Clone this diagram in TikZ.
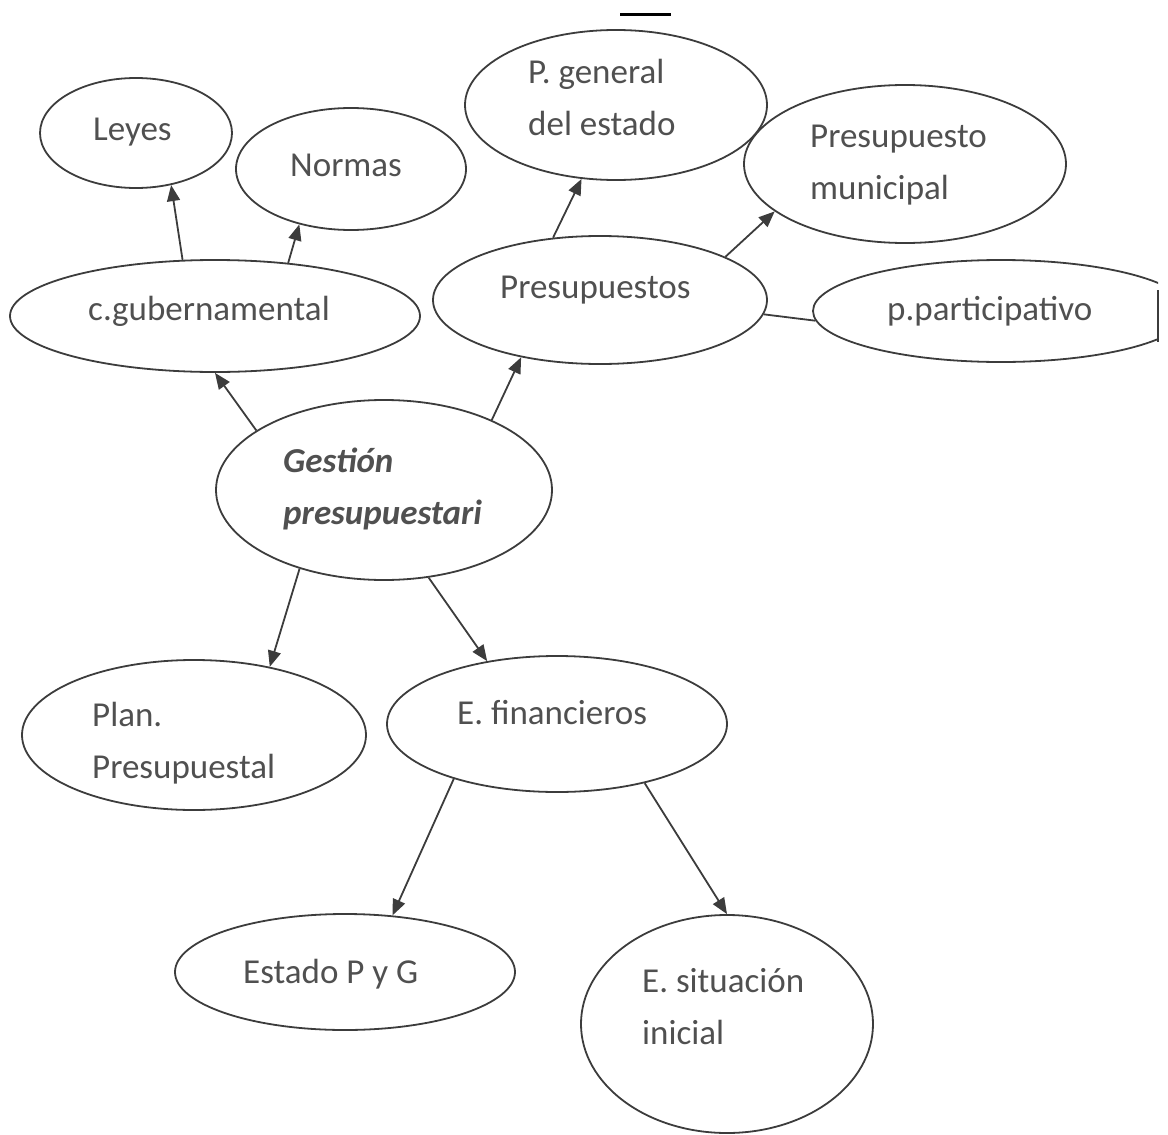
\documentclass[tikz,border=0pt]{standalone}
\usepackage{fontspec}
\setmainfont{Carlito}
\usetikzlibrary{arrows.meta,shapes.geometric}
\definecolor{lin}{HTML}{3C3C3C}
\definecolor{txt}{HTML}{505050}
\begin{document}
\begin{tikzpicture}[x=1pt,y=-1pt,
  oval/.style={ellipse,draw=lin,line width=1.8pt,inner sep=0pt},
  lab/.style={text=txt,font=\fontsize{35}{52}\selectfont,inner sep=0pt,align=left},
  arr/.style={draw=lin,line width=1.8pt,-{Triangle[length=16pt,width=13pt]}},
  ln/.style={draw=lin,line width=1.8pt}]
\useasboundingbox (0,0) rectangle (1168,1135);
% ellipses
\node[oval,minimum width=192,minimum height=110] (leyes) at (136,133) {};
\node[oval,minimum width=230,minimum height=122] (normas) at (351,169) {};
\node[oval,minimum width=410,minimum height=112] (cgub) at (215,316) {};
\node[oval,minimum width=302,minimum height=150] (pgen) at (616,105) {};
\node[oval,minimum width=322,minimum height=158] (pmun) at (905,164) {};
\node[oval,minimum width=334,minimum height=128] (pres) at (600,300) {};
\begin{scope}
\clip (0,0) rectangle (1158,1135);
\node[oval,minimum width=376,minimum height=102] (ppar) at (1001,311) {};
\end{scope}
\draw[lin,line width=2pt] (1158,290) -- (1158,342);
\node[oval,minimum width=336,minimum height=180] (gest) at (384,490) {};
\node[oval,minimum width=344,minimum height=150] (plan) at (194,735) {};
\node[oval,minimum width=340,minimum height=136] (efin) at (557,724) {};
\node[oval,minimum width=340,minimum height=116] (epyg) at (345,972) {};
\node[oval,minimum width=292,minimum height=218] (esit) at (727,1024) {};
% top mark
\draw[black,line width=3pt] (620,14) -- (671,14);
% texts
\node[lab,anchor=base west] (tleyes) at (93,140) {Leyes};
\node[lab,anchor=base west] (tnormas) at (290,176) {Normas};
\node[lab,anchor=base west] (tcgub) at (88,320) {c.gubernamental};
\node[lab,anchor=base west] (tpgen) at (528,135) {P. general\\del estado};
\node[lab,anchor=base west] (tpmun) at (810,199) {Presupuesto\\municipal};
\node[lab,anchor=base west] (tpres) at (500,298) {Presupuestos};
\node[lab,anchor=base west] (tppar) at (887,320) {p.participativo};
\node[lab,anchor=base west,font=\fontsize{35}{52}\selectfont\bfseries\itshape] (tgest) at (283,524) {Gestión\\presupuestari};
\node[lab,anchor=base west] (tplan) at (92,778) {Plan.\\Presupuestal};
\node[lab,anchor=base west] (tefin) at (457,724) {E. financieros};
\node[lab,anchor=base west] (tepyg) at (243,983) {Estado P y G};
\node[lab,anchor=base west] (tesit) at (642,1044) {E. situación\\inicial};
% connectors
\draw[arr] (cgub.120.7) -- (leyes.-56.8);
\draw[arr] (cgub.36.5) -- (normas.-133);
\draw[arr] (gest.155.2) -- (cgub.-90);
\draw[arr] (gest.33.6) -- (pres.-144.8);
\draw[arr] (pres.127.7) -- (pgen.-115.6);
\draw[arr] (pres.19.1) -- (pmun.-160.1);
\draw[ln] (pres.-5.5) -- (ppar.183.4);
\draw[arr] (gest.-137.8) -- (plan.42.2);
\draw[arr] (gest.-63) -- (efin.138.5);
\draw[arr] (efin.-152) -- (epyg.50.4);
\draw[arr] (efin.-34.3) -- (esit.90);
\end{tikzpicture}
\end{document}
